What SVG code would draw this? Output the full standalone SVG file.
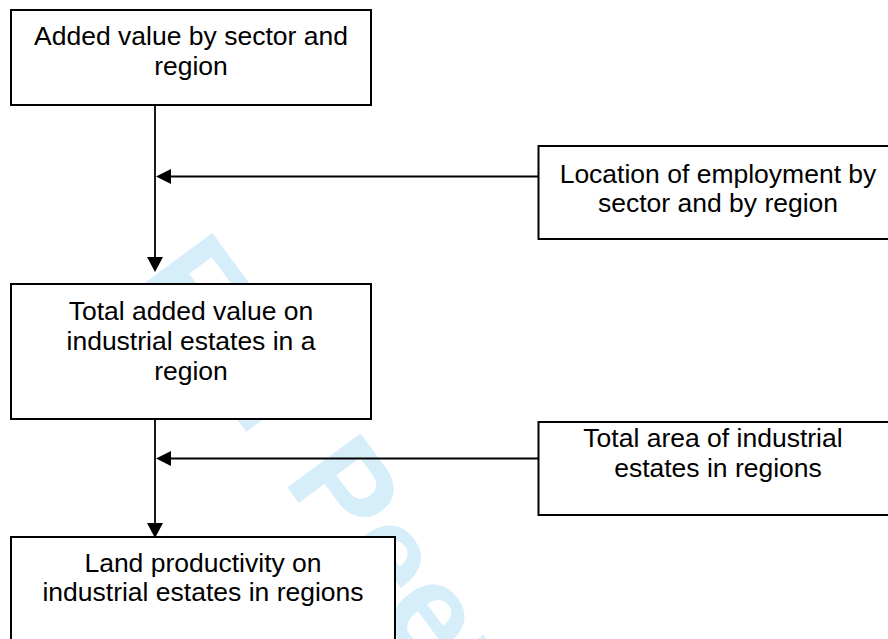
<svg xmlns="http://www.w3.org/2000/svg" width="888" height="639" viewBox="0 0 888 639">
<style>
.box{fill:#fff;stroke:#000;stroke-width:2}
.lbl{font-family:"Liberation Sans",Arial,sans-serif;font-size:26.5px;fill:#000;text-anchor:middle}
.wm{font-family:"Liberation Sans",Arial,sans-serif;font-size:132px;font-weight:bold;fill:#d5eefa}
.con{stroke:#000;stroke-width:1.8;fill:none}
.head{fill:#000}
</style>
<rect x="0" y="0" width="888" height="639" fill="#fff"/>
<text class="wm" transform="translate(134,280) rotate(53.5)">For Peer Review</text>
<g id="connectors">
<line class="con" x1="155" y1="105" x2="155" y2="258"/>
<polygon class="head" points="147,257 163,257 155,272"/>
<line class="con" x1="538.5" y1="176.5" x2="168" y2="176.5"/>
<polygon class="head" points="156,176.5 171,169 171,184"/>
<line class="con" x1="155" y1="419" x2="155" y2="525"/>
<polygon class="head" points="147,523 163,523 155,538"/>
<line class="con" x1="538.5" y1="458.5" x2="168" y2="458.5"/>
<polygon class="head" points="156,458.5 171,451 171,466"/>
</g>
<g id="n1">
<rect class="box" x="11" y="10" width="360" height="95"/>
<text class="lbl" x="191" y="45">Added value by sector and</text>
<text class="lbl" x="191" y="74.5">region</text>
</g>
<g id="n2">
<rect class="box" x="538.5" y="146" width="360" height="93"/>
<text class="lbl" x="718" y="183">Location of employment by</text>
<text class="lbl" x="718" y="212">sector and by region</text>
</g>
<g id="n3">
<rect class="box" x="11" y="284" width="360" height="135"/>
<text class="lbl" x="191" y="320">Total added value on</text>
<text class="lbl" x="191" y="350">industrial estates in a</text>
<text class="lbl" x="191" y="380">region</text>
</g>
<g id="n4">
<rect class="box" x="538.5" y="422" width="360" height="93"/>
<text class="lbl" x="713" y="447">Total area of industrial</text>
<text class="lbl" x="718" y="476.5">estates in regions</text>
</g>
<g id="n5">
<rect class="box" x="11" y="537" width="384" height="130"/>
<text class="lbl" x="203" y="571.5">Land productivity on</text>
<text class="lbl" x="203" y="600.5">industrial estates in regions</text>
</g>
</svg>
